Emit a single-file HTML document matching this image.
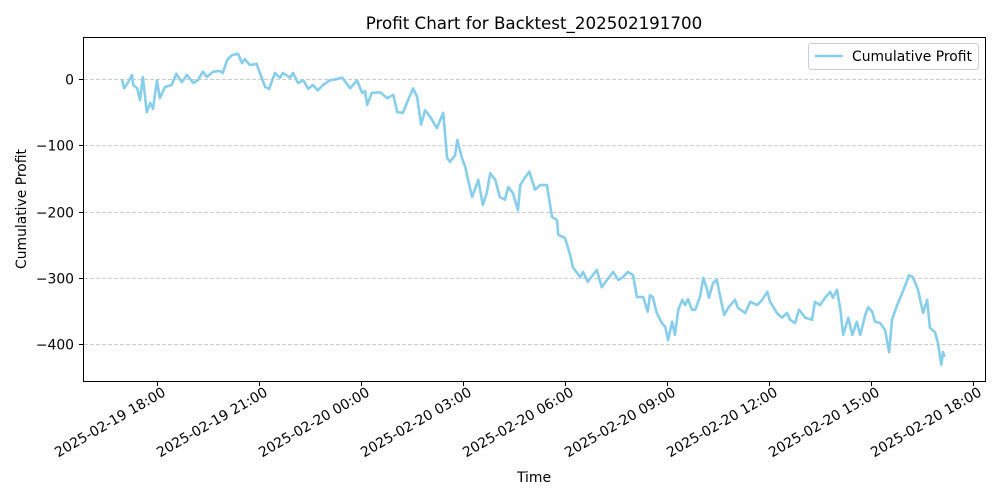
<!DOCTYPE html>
<html><head><meta charset="utf-8"><style>
body{margin:0;background:#fff;}
svg{display:block;font-family:"DejaVu Sans","Liberation Sans",sans-serif;}
</style></head><body>
<svg id="chart" width="1000" height="500" xmlns="http://www.w3.org/2000/svg">
<rect width="1000" height="500" fill="#fff"/>
<text x="534" y="29" text-anchor="middle" font-size="16.7">Profit Chart for Backtest_202502191700</text>
<g id="grid"></g>
<g id="series"></g>
<rect x="83.5" y="37.5" width="902" height="344" fill="none" stroke="#000" stroke-width="1"/>
<g id="yaxis"></g>
<g id="xaxis"></g>
<text transform="translate(26,209) rotate(-90)" text-anchor="middle" font-size="13.9">Cumulative Profit</text>
<text x="534" y="482" text-anchor="middle" font-size="13.9">Time</text>
<g>
<rect x="808.5" y="43.5" width="170" height="26" rx="3" fill="#fff" stroke="#ccc"/>
<line x1="815" y1="56" x2="843" y2="56" stroke="#87CEEB" stroke-width="2.6"/>
<text x="852" y="61" font-size="13.9">Cumulative Profit</text>
</g>
</svg>
<script>
// minutes relative to 2025-02-19 18:00
const times=[-62,-58,-51,-44,-42,-35,-30,-25,-18,-12,-7,0,5,14,26,34,44,53,64,72,81,88,99,111,116,124,132,143,150,155,164,176,178,191,198,208,217,222,235,240,249,258,267,275,284,293,305,318,327,341,353,362,367,371,379,394,406,417,424,434,443,452,459,466,473,482,494,505,512,517,526,530,538,544,549,556,565,567,575,582,588,597,605,614,620,628,637,641,650,657,667,676,688,697,706,708,720,729,734,747,752,760,776,785,794,805,814,822,831,840,847,858,866,870,875,882,891,897,902,909,914,920,927,932,937,944,950,958,964,971,974,981,988,994,1001,1008,1020,1025,1038,1047,1059,1068,1077,1082,1094,1103,1112,1117,1126,1133,1144,1156,1161,1170,1179,1188,1193,1200,1206,1211,1220,1227,1235,1241,1250,1255,1262,1267,1276,1285,1292,1297,1306,1315,1324,1327,1334,1343,1352,1359,1364,1373,1378,1384,1387,1390];
const profits=[0,-14,-5,6,-9,-14,-32,3,-50,-36,-45,-2,-29,-12,-9,8,-5,6,-6,-2,11,3,11,12,9,29,36,38,24,30,21,23,17,-12,-15,9,2,9,2,9,-6,-2,-15,-9,-17,-9,-2,0,2,-14,-2,-21,-18,-39,-21,-20,-29,-24,-50,-51,-32,-14,-27,-69,-47,-57,-74,-51,-119,-125,-115,-92,-119,-133,-152,-178,-157,-152,-190,-172,-142,-152,-178,-182,-163,-172,-198,-160,-148,-140,-167,-160,-160,-208,-213,-235,-240,-265,-284,-299,-291,-306,-288,-314,-303,-291,-303,-299,-291,-296,-329,-329,-351,-326,-329,-353,-368,-374,-394,-366,-386,-348,-333,-341,-332,-348,-348,-329,-300,-318,-330,-308,-303,-329,-356,-345,-333,-345,-353,-336,-341,-333,-321,-336,-353,-360,-353,-363,-368,-348,-360,-363,-336,-341,-330,-321,-330,-318,-348,-386,-360,-386,-366,-386,-356,-344,-351,-366,-368,-379,-412,-363,-341,-323,-303,-296,-299,-318,-353,-333,-375,-382,-398,-431,-412,-419];
const yTicks=[0,-100,-200,-300,-400];
const xTickMinutes=[0,180,360,540,720,900,1080,1260,1440];
const xTickLabels=["2025-02-19 18:00","2025-02-19 21:00","2025-02-20 00:00","2025-02-20 03:00","2025-02-20 06:00","2025-02-20 09:00","2025-02-20 12:00","2025-02-20 15:00","2025-02-20 18:00"];
const NS="http://www.w3.org/2000/svg";
function xs(m){return 157+m*34/60;}
function ys(v){return 79-v*0.663;}
const grid=document.getElementById('grid'),ya=document.getElementById('yaxis'),xa=document.getElementById('xaxis'),ser=document.getElementById('series');
yTicks.forEach(v=>{
  const y=Math.round(ys(v))+0.5;
  const g=document.createElementNS(NS,'line');
  
  
  g.setAttribute('x1',84);g.setAttribute('x2',985);g.setAttribute('y1',y);g.setAttribute('y2',y);
  g.setAttribute('stroke','#ccc');g.setAttribute('stroke-dasharray','4,2');g.setAttribute('stroke-width','0.9');
  grid.appendChild(g);
  const t=document.createElementNS(NS,'line');
  
  
  t.setAttribute('x1',79);t.setAttribute('x2',83);t.setAttribute('y1',y);t.setAttribute('y2',y);t.setAttribute('stroke','#000');
  ya.appendChild(t);
  const l=document.createElementNS(NS,'text');
  
  
  l.setAttribute('x',74);l.setAttribute('y',y+5);l.setAttribute('text-anchor','end');l.setAttribute('font-size','13.9');
  l.textContent=v===0?'0':'\u2212'+Math.abs(v);
  ya.appendChild(l);
});
xTickMinutes.forEach((m,i)=>{
  const x=Math.round(xs(m))+0.5;
  const t=document.createElementNS(NS,'line');
  
  
  t.setAttribute('x1',x);t.setAttribute('x2',x);t.setAttribute('y1',382);t.setAttribute('y2',386);t.setAttribute('stroke','#000');
  xa.appendChild(t);
  const l=document.createElementNS(NS,'text');
  
  
  l.setAttribute('transform','translate('+(x+9)+',395) rotate(-30)');
  l.setAttribute('text-anchor','end');l.setAttribute('font-size','13.9');
  l.textContent=xTickLabels[i];
  xa.appendChild(l);
});
const p=document.createElementNS(NS,'polyline');


p.setAttribute('points',times.map((m,i)=>xs(m).toFixed(1)+','+ys(profits[i]).toFixed(1)).join(' '));
p.setAttribute('fill','none');p.setAttribute('stroke','#87CEEB');p.setAttribute('stroke-width','2.6');p.setAttribute('stroke-linejoin','round');
ser.appendChild(p);
</script>
</body></html>
